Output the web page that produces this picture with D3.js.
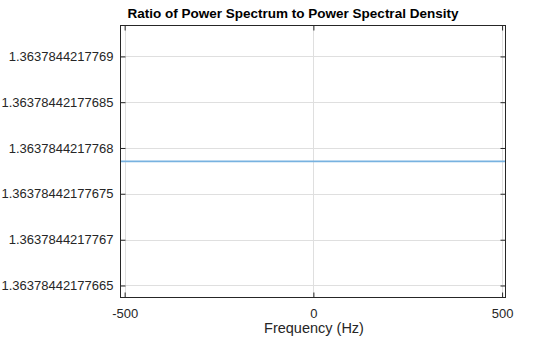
<!DOCTYPE html>
<html><head><meta charset="utf-8">
<script src="https://cdn.jsdelivr.net/npm/d3@7"></script>
<style>body{margin:0;background:#fff}svg{display:block}</style>
</head><body>
<svg id="c" width="560" height="337"></svg>
<script>
const title = "Ratio of Power Spectrum to Power Spectral Density";
const xLabel = "Frequency (Hz)";
const xTicks = [-500, 0, 500];
const xTickLabels = ["-500", "0", "500"];
const yTicks = [1.36378442177665, 1.3637844217767, 1.36378442177675, 1.3637844217768, 1.36378442177685, 1.3637844217769];
const yTickLabels = ["1.36378442177665", "1.3637844217767", "1.36378442177675", "1.3637844217768", "1.36378442177685", "1.3637844217769"];
const freqs = [-511, -470, -430, -389, -348, -307, -266, -225, -184, -143, -102, -61, -20, 20, 61, 102, 143, 184, 225, 266, 307, 348, 389, 430, 470, 509];
const ratio = [1.3637844217767853, 1.3637844217767853, 1.3637844217767853, 1.3637844217767853, 1.3637844217767853, 1.3637844217767853, 1.3637844217767853, 1.3637844217767853, 1.3637844217767853, 1.3637844217767853, 1.3637844217767853, 1.3637844217767853, 1.3637844217767853, 1.3637844217767853, 1.3637844217767853, 1.3637844217767853, 1.3637844217767853, 1.3637844217767853, 1.3637844217767853, 1.3637844217767853, 1.3637844217767853, 1.3637844217767853, 1.3637844217767853, 1.3637844217767853, 1.3637844217767853, 1.3637844217767853];

const L = 120.5, R = 505.5, T = 25.5, B = 297.5;
const svg = d3.select("#c");
const font = "'Liberation Sans', Arial, Helvetica, sans-serif";
const x = d3.scaleLinear().domain([-511, 509]).range([L, R]);
const y = d3.scaleLinear().domain([1.3637844217766369, 1.3637844217769338]).range([B, T]);

// grid
const g = svg.append("g");
g.selectAll(".gx").data(xTicks).join("line")
  .attr("x1", d => Math.round(x(d)) + 0.5).attr("x2", d => Math.round(x(d)) + 0.5)
  .attr("y1", T).attr("y2", B).attr("stroke", "#dfdfdf").attr("stroke-width", 1);
g.selectAll(".gy").data(yTicks).join("line")
  .attr("y1", d => Math.round(y(d)) + 0.5).attr("y2", d => Math.round(y(d)) + 0.5)
  .attr("x1", L).attr("x2", R).attr("stroke", "#dfdfdf").attr("stroke-width", 1);

// data line
const line = d3.line().x((d, i) => x(freqs[i])).y(d => y(d));
svg.append("path").datum(ratio).attr("d", line)
  .attr("fill", "none").attr("stroke", "#78b2e0").attr("stroke-width", 1.8);

// axes
const fmtX = (d, i) => xTickLabels[i];
const fmtY = (d, i) => yTickLabels[i];
const ax = svg.append("g").attr("transform", `translate(0,${B})`)
  .call(d3.axisBottom(x).tickValues(xTicks).tickFormat(fmtX).tickSizeInner(-5).tickSizeOuter(0).tickPadding(11));
const axT = svg.append("g").attr("transform", `translate(0,${T})`)
  .call(d3.axisTop(x).tickValues(xTicks).tickFormat("").tickSizeInner(-5).tickSizeOuter(0));
const ay = svg.append("g").attr("transform", `translate(${L},0)`)
  .call(d3.axisLeft(y).tickValues(yTicks).tickFormat(fmtY).tickSizeInner(-5).tickSizeOuter(0).tickPadding(7));
const ayR = svg.append("g").attr("transform", `translate(${R},0)`)
  .call(d3.axisRight(y).tickValues(yTicks).tickFormat("").tickSizeInner(-5).tickSizeOuter(0));
[ax, axT, ay, ayR].forEach(a => {
  a.select(".domain").remove();
  a.selectAll("line").attr("stroke", "#262626");
  a.selectAll("text").attr("fill", "#262626").style("font-family", font).style("font-size", "13px");
});
svg.append("rect").attr("x", L).attr("y", T).attr("width", R - L).attr("height", B - T)
  .attr("fill", "none").attr("stroke", "#262626").attr("stroke-width", 1);

svg.append("text").attr("x", 293).attr("y", 18).attr("text-anchor", "middle")
  .style("font-family", font).style("font-size", "13.5px").style("font-weight", "bold")
  .attr("fill", "#000").text(title);
svg.append("text").attr("x", 314).attr("y", 333).attr("text-anchor", "middle")
  .style("font-family", font).style("font-size", "14.5px").attr("fill", "#262626").text(xLabel);
</script>
</body></html>
